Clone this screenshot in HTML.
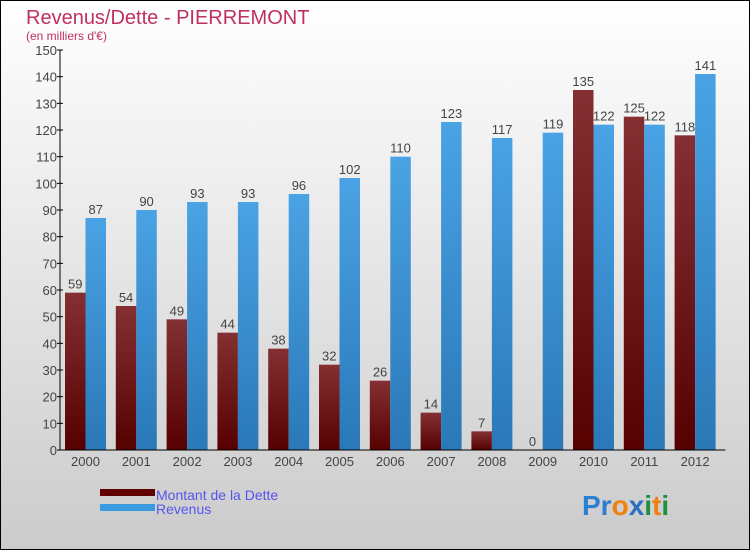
<!DOCTYPE html>
<html><head><meta charset="utf-8"><style>
body{margin:0}
svg{display:block;font-family:"Liberation Sans",sans-serif}
</style></head><body>
<svg width="750" height="550" xmlns="http://www.w3.org/2000/svg">
<defs>
<linearGradient id="bg" x1="0" y1="0" x2="0" y2="1"><stop offset="0" stop-color="#ffffff"/><stop offset="1" stop-color="#cbcbcb"/></linearGradient>
<linearGradient id="gd" x1="0" y1="0" x2="0" y2="1"><stop offset="0" stop-color="#843033"/><stop offset="1" stop-color="#560000"/></linearGradient>
<linearGradient id="gr" x1="0" y1="0" x2="0" y2="1"><stop offset="0" stop-color="#4aa3e4"/><stop offset="1" stop-color="#2a78b8"/></linearGradient>
</defs>
<rect x="0.5" y="0.5" width="749" height="549" fill="url(#bg)" stroke="#000"/>
<text x="26" y="24" font-size="20" fill="#c0305f">Revenus/Dette - PIERREMONT</text>
<text x="26" y="40" font-size="12" fill="#c0305f">(en milliers d'€)</text>
<g id="plot"></g>
<g>
<rect x="100" y="489" width="55" height="7" fill="#600000"/>
<text x="156" y="500" font-size="14" fill="#5555ee">Montant de la Dette</text>
<rect x="100" y="504" width="55" height="7" fill="#3a9ae0"/>
<text x="156" y="514" font-size="14" fill="#5555ee">Revenus</text>
</g>
<text x="582" y="515" font-size="28" font-weight="bold"><tspan fill="#2a7fd0">Pr</tspan><tspan fill="#f08010">o</tspan><tspan fill="#2a6fc0">x</tspan><tspan fill="#209040">i</tspan><tspan fill="#f08010">t</tspan><tspan fill="#209040">i</tspan></text>
</svg>
<script>
const years=["2000","2001","2002","2003","2004","2005","2006","2007","2008","2009","2010","2011","2012"];
const dette=[59,54,49,44,38,32,26,14,7,0,135,125,118];
const revenus=[87,90,93,93,96,102,110,123,117,119,122,122,141];
const yTicks=[0,10,20,30,40,50,60,70,80,90,100,110,120,130,140,150];
const ns="http://www.w3.org/2000/svg";
const g=document.getElementById('plot');
const X0=60,Y0=450,YMAX=150,H=400,STEP=50.8,BW=20.5;
const y=v=>Y0-v/YMAX*H;
function mk(t,a,txt){const e=document.createElementNS(ns,t);for(const k in a)e.setAttribute(k,a[k]);if(txt!=null)e.textContent=txt;g.appendChild(e);return e;}
yTicks.forEach(v=>{
 const l=mk('line',{x1:X0-3,x2:X0+3,y1:y(v),y2:y(v),stroke:'#000'});
 
 
 const t=mk('text',{x:X0-3,y:y(v)+5,'font-size':13,fill:'#444','text-anchor':'end'},v);
 
 
});
years.forEach((yr,i)=>{
 const gx=X0+5+i*STEP;
 const d=mk('rect',{x:gx,y:y(dette[i]),width:BW,height:Y0-y(dette[i]),fill:'url(#gd)'});
 
 
 const r=mk('rect',{x:gx+BW,y:y(revenus[i]),width:BW,height:Y0-y(revenus[i]),fill:'url(#gr)'});
 
 
 const dl=mk('text',{x:gx+BW/2,y:y(dette[i])-4,'font-size':13,fill:'#444','text-anchor':'middle'},dette[i]);
 
 
 const rl=mk('text',{x:gx+BW*1.5,y:y(revenus[i])-4,'font-size':13,fill:'#444','text-anchor':'middle'},revenus[i]);
 
 
 const xl=mk('text',{x:gx+BW,y:Y0+16,'font-size':13,fill:'#444','text-anchor':'middle'},yr);
 
 
});
const ya=mk('line',{x1:X0,x2:X0,y1:y(YMAX),y2:Y0,stroke:'#000'});


const xa=mk('line',{x1:X0,x2:X0+5+years.length*STEP,y1:Y0,y2:Y0,stroke:'#000'});


</script>
</body></html>
